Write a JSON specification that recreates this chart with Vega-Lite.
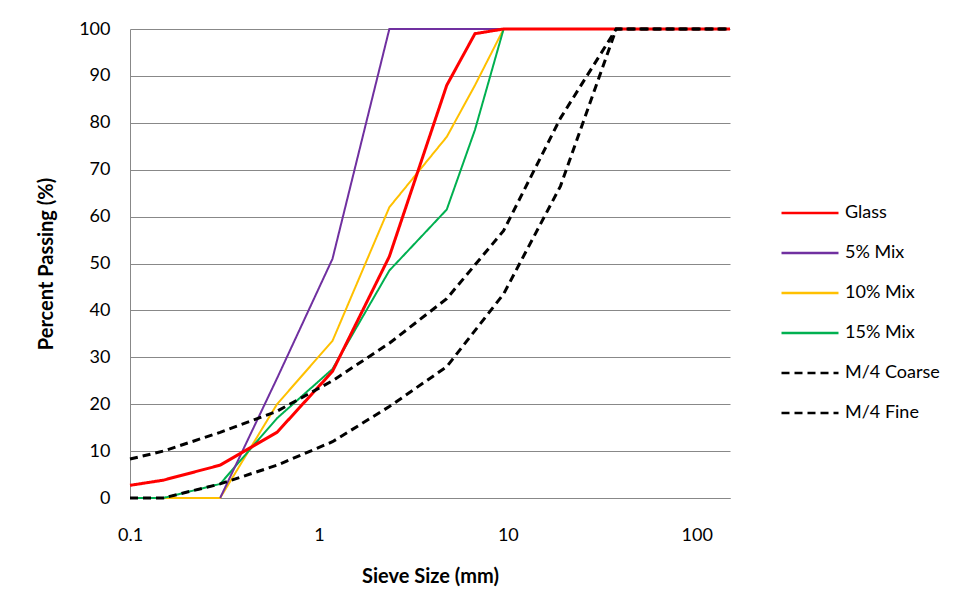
{
  "$schema": "https://vega.github.io/schema/vega-lite/v6.json",
  "width": 600,
  "height": 469,
  "autosize": "none",
  "padding": {"left": 130, "top": 29, "right": 227, "bottom": 114},
  "background": "white",
  "config": {
    "font": "Lato",
    "view": {"stroke": null},
    "axis": {
      "labelFont": "Lato",
      "labelFontSize": 18,
      "labelColor": "#000000",
      "titleFont": "Lato",
      "titleFontSize": 20,
      "titleFontWeight": "bold",
      "titleColor": "#000000",
      "domainColor": "#888888",
      "gridColor": "#888888",
      "ticks": false
    },
    "legend": {
      "labelFont": "Lato",
      "labelFontSize": 18,
      "labelColor": "#000000"
    }
  },
  "data": {
    "values": [
      {"series": "10% Mix", "size": 0.1, "pct": 0},
      {"series": "10% Mix", "size": 0.15, "pct": 0},
      {"series": "10% Mix", "size": 0.3, "pct": 0},
      {"series": "10% Mix", "size": 0.6, "pct": 20},
      {"series": "10% Mix", "size": 1.18, "pct": 33.5},
      {"series": "10% Mix", "size": 2.36, "pct": 62},
      {"series": "10% Mix", "size": 4.75, "pct": 77},
      {"series": "10% Mix", "size": 6.7, "pct": 88},
      {"series": "10% Mix", "size": 9.5, "pct": 100},
      {"series": "10% Mix", "size": 150, "pct": 100},

      {"series": "15% Mix", "size": 0.1, "pct": 0},
      {"series": "15% Mix", "size": 0.15, "pct": 0},
      {"series": "15% Mix", "size": 0.3, "pct": 3},
      {"series": "15% Mix", "size": 0.6, "pct": 17},
      {"series": "15% Mix", "size": 1.18, "pct": 27.5},
      {"series": "15% Mix", "size": 2.36, "pct": 48.5},
      {"series": "15% Mix", "size": 4.75, "pct": 61.5},
      {"series": "15% Mix", "size": 6.7, "pct": 78.5},
      {"series": "15% Mix", "size": 9.5, "pct": 100},
      {"series": "15% Mix", "size": 150, "pct": 100},

      {"series": "5% Mix", "size": 0.3, "pct": 0},
      {"series": "5% Mix", "size": 0.6, "pct": 25.5},
      {"series": "5% Mix", "size": 1.18, "pct": 51},
      {"series": "5% Mix", "size": 2.36, "pct": 100},
      {"series": "5% Mix", "size": 150, "pct": 100},

      {"series": "Glass", "size": 0.1, "pct": 2.7},
      {"series": "Glass", "size": 0.15, "pct": 3.8},
      {"series": "Glass", "size": 0.3, "pct": 7},
      {"series": "Glass", "size": 0.6, "pct": 14},
      {"series": "Glass", "size": 1.18, "pct": 27},
      {"series": "Glass", "size": 2.36, "pct": 51.5},
      {"series": "Glass", "size": 4.75, "pct": 88},
      {"series": "Glass", "size": 6.7, "pct": 99},
      {"series": "Glass", "size": 9.5, "pct": 100},
      {"series": "Glass", "size": 150, "pct": 100},

      {"series": "M/4 Coarse", "size": 0.1, "pct": 8.3},
      {"series": "M/4 Coarse", "size": 0.15, "pct": 10},
      {"series": "M/4 Coarse", "size": 0.3, "pct": 14},
      {"series": "M/4 Coarse", "size": 0.6, "pct": 18.5},
      {"series": "M/4 Coarse", "size": 1.18, "pct": 25},
      {"series": "M/4 Coarse", "size": 2.36, "pct": 33},
      {"series": "M/4 Coarse", "size": 4.75, "pct": 42.5},
      {"series": "M/4 Coarse", "size": 9.5, "pct": 57},
      {"series": "M/4 Coarse", "size": 19, "pct": 81},
      {"series": "M/4 Coarse", "size": 37.5, "pct": 100},
      {"series": "M/4 Coarse", "size": 150, "pct": 100},

      {"series": "M/4 Fine", "size": 0.1, "pct": 0},
      {"series": "M/4 Fine", "size": 0.15, "pct": 0},
      {"series": "M/4 Fine", "size": 0.3, "pct": 3},
      {"series": "M/4 Fine", "size": 0.6, "pct": 7},
      {"series": "M/4 Fine", "size": 1.18, "pct": 12},
      {"series": "M/4 Fine", "size": 2.36, "pct": 19.5},
      {"series": "M/4 Fine", "size": 4.75, "pct": 28},
      {"series": "M/4 Fine", "size": 9.5, "pct": 43.5},
      {"series": "M/4 Fine", "size": 19, "pct": 66.5},
      {"series": "M/4 Fine", "size": 37.5, "pct": 100},
      {"series": "M/4 Fine", "size": 150, "pct": 100}
    ]
  },
  "mark": {"type": "line", "clip": false},
  "encoding": {
    "x": {
      "field": "size",
      "type": "quantitative",
      "scale": {"type": "log", "domain": [0.1, 150], "nice": false},
      "axis": {
        "title": "Sieve Size (mm)",
        "values": [0.1, 1, 10, 100],
        "labelExpr": "datum.value + ''",
        "grid": false,
        "labelPadding": 28,
        "titlePadding": 22,
        "labelFlush": false
      }
    },
    "y": {
      "field": "pct",
      "type": "quantitative",
      "scale": {"domain": [0, 100], "nice": false},
      "axis": {
        "title": "Percent Passing (%)",
        "values": [0, 10, 20, 30, 40, 50, 60, 70, 80, 90, 100],
        "grid": true,
        "labelPadding": 20,
        "titlePadding": 22
      }
    },
    "color": {
      "field": "series",
      "type": "nominal",
      "scale": {
        "domain": ["Glass", "5% Mix", "10% Mix", "15% Mix", "M/4 Coarse", "M/4 Fine"],
        "range": ["#FF0000", "#7030A0", "#FFC000", "#00B050", "#000000", "#000000"]
      },
      "legend": {
        "title": null,
        "orient": "none",
        "legendX": 650,
        "legendY": 154,
        "padding": 0,
        "symbolType": "stroke",
        "symbolSize": 3249,
        "symbolStrokeWidth": 2.5,
        "rowPadding": 1,
        "labelOffset": 5
      }
    },
    "strokeDash": {
      "field": "series",
      "type": "nominal",
      "scale": {
        "domain": ["Glass", "5% Mix", "10% Mix", "15% Mix", "M/4 Coarse", "M/4 Fine"],
        "range": [[1, 0], [1, 0], [1, 0], [1, 0], [8, 5], [8, 5]]
      },
      "legend": {
        "title": null,
        "orient": "none",
        "legendX": 650,
        "legendY": 154,
        "padding": 0,
        "symbolType": "stroke",
        "symbolSize": 3249,
        "symbolStrokeWidth": 2.5,
        "rowPadding": 1,
        "labelOffset": 5
      }
    },
    "strokeWidth": {
      "condition": {"test": "datum.series === 'Glass' || indexof(datum.series, 'M/4') === 0", "value": 3},
      "value": 2
    }
  }
}
